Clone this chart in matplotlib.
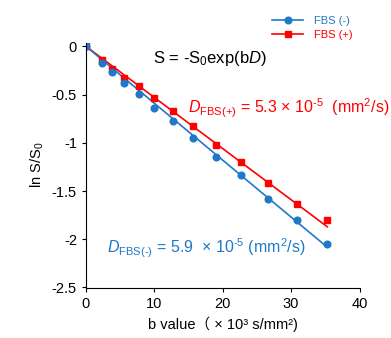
import numpy as np
import matplotlib
matplotlib.use("Agg")
import matplotlib.pyplot as plt
from matplotlib.lines import Line2D

plt.rcParams['font.family'] = ['Liberation Sans', 'Noto Sans CJK JP', 'DejaVu Sans']
plt.rcParams['mathtext.fontset'] = 'custom'
plt.rcParams['mathtext.rm'] = 'Liberation Sans'
plt.rcParams['mathtext.it'] = 'Liberation Sans:italic'

# b values (x10^3 s/mm^2) and ln S/S0
b_vals = [0, 2.4, 3.8, 5.5, 7.7, 10.0, 12.7, 15.7, 19.0, 22.6, 26.6, 30.8, 35.3]
ln_minus = [0, -0.17, -0.27, -0.375, -0.49, -0.64, -0.77, -0.95, -1.15, -1.33, -1.58, -1.80, -2.05]
ln_plus = [0, -0.14, -0.23, -0.33, -0.41, -0.54, -0.675, -0.83, -1.02, -1.20, -1.42, -1.635, -1.80]
# fitted slopes (D in 10^-5 mm^2/s -> slope per 10^3 s/mm^2)
D_minus = 0.059
D_plus = 0.053

blue = '#1F78C8'
red = '#FF0000'

fig = plt.figure(figsize=(3.91, 3.38), dpi=100)
ax = fig.add_axes([86/391, 1-287.5/338, 273.5/391, 244.5/338])

b = np.array(b_vals)
ax.plot(b, -D_plus*b, color=red, lw=1.2)
ax.plot(b, -D_minus*b, color=blue, lw=1.2)
ax.plot(b_vals, ln_plus, 's', color=red, ms=5)
ax.plot(b_vals, ln_minus, 'o', color=blue, ms=4.8)

ax.set_xlim(0, 40)
ax.set_ylim(-2.5, 0.035)
ax.set_xticks([0, 10, 20, 30, 40])
ax.set_yticks([0, -0.5, -1, -1.5, -2, -2.5])
ax.set_yticklabels(['0', '-0.5', '-1', '-1.5', '-2', '-2.5'])
for s in ['top', 'right']:
    ax.spines[s].set_visible(False)
ax.tick_params(labelsize=10.5, length=3, width=0.8)
ax.set_xlabel('b value\uff08 \u00d7 10\u00b3 s/mm\u00b2)', fontsize=10.5, labelpad=4)
ax.set_ylabel(r'ln S/S$_0$', fontsize=10.5, labelpad=4)

ax.text(18.1, -0.13, r'S = -S$_0$exp(b$\mathit{D}$)', fontsize=12, ha='center', va='center')
ax.text(14.9, -0.64, '$\\mathit{D}_{\\mathrm{FBS(+)}}$ = 5.3 \u00d7 10$^{\u2010 5}$  (mm$^2$/s)',
        fontsize=11.5, color=red, va='center')
ax.text(3.1, -2.09, '$\\mathit{D}_{\\mathrm{FBS(\u2010)}}$ = 5.9  \u00d7 10$^{\u2010 5}$ (mm$^2$/s)',
        fontsize=11.5, color=blue, va='center')

handles = [Line2D([], [], color=blue, marker='o', ms=4.8, lw=1.2),
           Line2D([], [], color=red, marker='s', ms=5, lw=1.2)]
fig.legend(handles, ['FBS (-)', 'FBS (+)'], loc='upper left', bbox_to_anchor=(262/391, 1-6/338),
           frameon=False, fontsize=8, handlelength=2.8, handletextpad=1.0, labelspacing=0.35,
           labelcolor='linecolor')

fig.savefig('out.png', dpi=100)
